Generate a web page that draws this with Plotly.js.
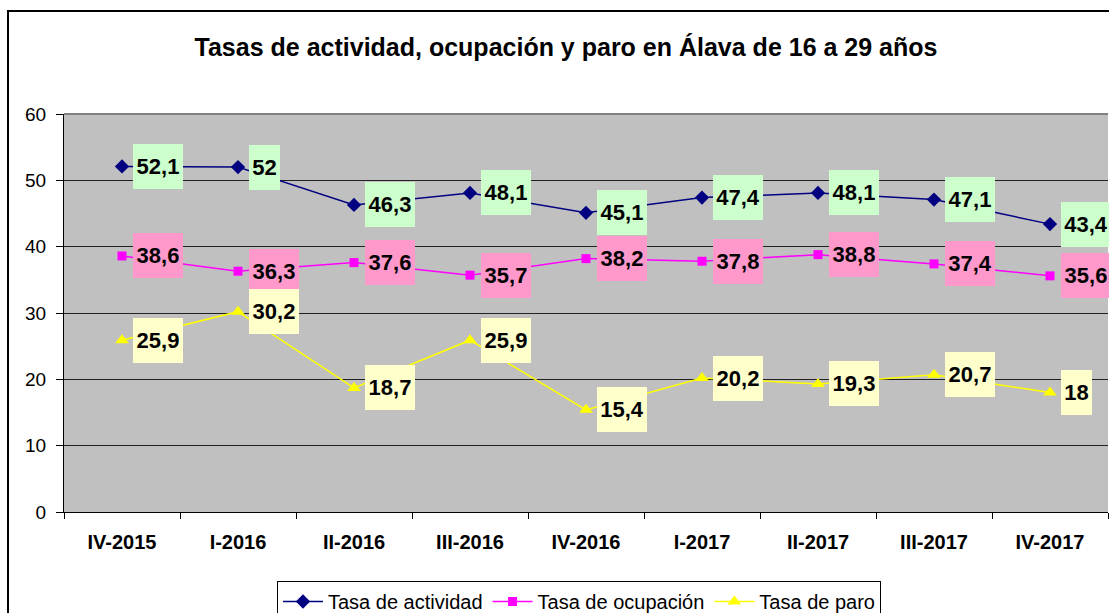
<!DOCTYPE html>
<html>
<head>
<meta charset="utf-8">
<script src="https://cdn.plot.ly/plotly-3.0.1.min.js"></script>
<style>
html,body{margin:0;padding:0;background:#fff;}
#wrap{position:relative;width:1109px;height:613px;overflow:hidden;}
#chart{width:1109px;height:613px;}
#frame{position:absolute;left:7px;top:10px;width:1200px;height:700px;border:2px solid #000;pointer-events:none;box-sizing:border-box;}
</style>
</head>
<body>
<div id="wrap">
<div id="chart"></div>
<div id="frame"></div>
</div>
<script>
const categories = ["IV-2015","I-2016","II-2016","III-2016","IV-2016","I-2017","II-2017","III-2017","IV-2017"];
const actividad = [52.1, 52, 46.3, 48.1, 45.1, 47.4, 48.1, 47.1, 43.4];
const ocupacion = [38.6, 36.3, 37.6, 35.7, 38.2, 37.8, 38.8, 37.4, 35.6];
const paro = [25.9, 30.2, 18.7, 25.9, 15.4, 20.2, 19.3, 20.7, 18];
const seriesNames = ["Tasa de actividad","Tasa de ocupación","Tasa de paro"];
const yTicks = [0,10,20,30,40,50,60];

const FONT = 'Liberation Sans, Arial, sans-serif';
const LABEL_SIZE = 22;
const fmt = v => String(v).replace('.', ',');

const cv = document.createElement('canvas').getContext('2d');
cv.font = 'bold ' + LABEL_SIZE + 'px "Liberation Sans", Arial, sans-serif';
const textW = t => cv.measureText(t).width;

const series = [
  {name: seriesNames[0], y: actividad, color: '#000080', symbol: 'diamond', size: 11, bg: '#CCFFCC'},
  {name: seriesNames[1], y: ocupacion, color: '#FF00FF', symbol: 'square', size: 9, bg: '#FF99CC'},
  {name: seriesNames[2], y: paro, color: '#FFFF00', symbol: 'triangle-up', size: 12, bg: '#FFFFCC'}
];

const traces = series.map(s => ({
  type: 'scatter', mode: 'lines+markers', name: s.name,
  x: categories, y: s.y,
  line: {color: s.color, width: 1.5},
  marker: {color: s.color, symbol: s.symbol, size: s.size},
  cliponaxis: false
}));

const annotations = [];
series.forEach(s => {
  s.y.forEach((v, i) => {
    const t = fmt(v);
    annotations.push({
      x: categories[i], y: v, xref: 'x', yref: 'y',
      text: '<b>' + t + '</b>', showarrow: false,
      xanchor: 'left', yanchor: 'middle', xshift: 11,
      width: Math.round(textW(t) + 7), height: 45, align: 'center', valign: 'middle',
      bgcolor: s.bg, borderpad: 0, borderwidth: 0,
      font: {family: FONT, size: LABEL_SIZE, color: '#000'}
    });
  });
});

const layout = {
  width: 1109, height: 613,
  margin: {l: 64, r: 1, t: 114, b: 101, autoexpand: false},
  paper_bgcolor: 'rgba(0,0,0,0)',
  plot_bgcolor: '#C0C0C0',
  font: {family: FONT, color: '#000'},
  title: {
    text: '<b>Tasas de actividad, ocupación y paro en Álava de 16 a 29 años</b>',
    font: {size: 25, family: FONT, color: '#000'},
    x: 566/1109, xanchor: 'center', y: 1 - 47/613, yanchor: 'middle', xref: 'container', yref: 'container'
  },
  xaxis: {
    type: 'category', categoryarray: categories,
    range: [-0.5, categories.length - 0.5],
    showgrid: false, zeroline: false,
    showline: true, linecolor: '#000', linewidth: 1,
    ticks: 'outside', tickson: 'boundaries', ticklen: 6, tickcolor: '#000',
    tickfont: {size: 20, family: FONT, color: '#000', weight: 'bold'},
    ticklabelstandoff: 12
  },
  yaxis: {
    range: [0, 60], tickvals: yTicks,
    showgrid: true, gridcolor: '#222', gridwidth: 1,
    zeroline: false, showline: true, linecolor: '#000', linewidth: 1,
    ticks: 'outside', ticklen: 7, tickcolor: '#000',
    tickfont: {size: 19, family: FONT, color: '#000'},
    ticklabelstandoff: 6
  },
  shapes: [
    {type: 'line', xref: 'paper', yref: 'paper', x0: 0, x1: 1, y0: 1, y1: 1, line: {color: '#808080', width: 2}}
  ],
  showlegend: true,
  legend: {
    orientation: 'h', xref: 'container', x: 579/1109, xanchor: 'center',
    yref: 'paper', y: -69/398, yanchor: 'top',
    bordercolor: '#000', borderwidth: 1, bgcolor: '#fff',
    font: {size: 20, family: FONT, color: '#000'},
    itemwidth: 40, tracegroupgap: 0
  },
  annotations: annotations
};

Plotly.newPlot('chart', traces, layout, {displayModeBar: false, staticPlot: true});
</script>
</body>
</html>
